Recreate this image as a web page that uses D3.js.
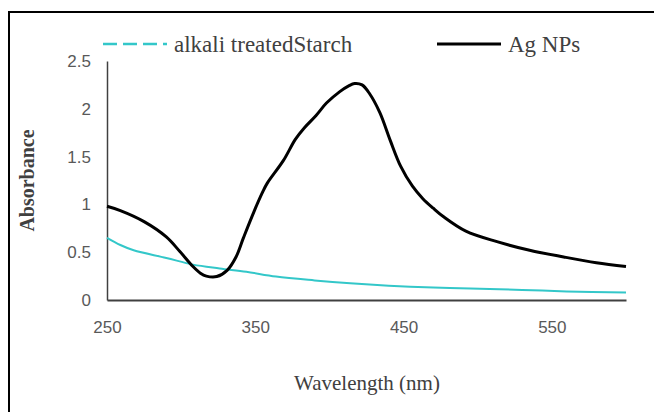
<!DOCTYPE html>
<html>
  <head>
    <meta charset="UTF-8">
    <style>
      body { margin: 0; background: white; }
      .tick text { font-family: "Liberation Sans", Arial, sans-serif; font-size: 17px; fill: #595959; }
      .serif { font-family: "Liberation Serif", "Times New Roman", serif; fill: #404040; }
    </style>
    <script src="https://d3js.org/d3.v7.min.js"></script>
  </head>
  <body>
    <svg id="chart"></svg>
    <script type="text/javascript">
      // Ag NPs spectrum
      let agWavelength = [250, 259, 275, 290, 299, 308, 313, 317, 324, 331, 337, 342, 349, 355, 358, 369, 377, 383, 391, 398, 407, 413, 417, 422, 427, 434, 441, 448, 456, 463, 470, 477, 492, 513, 535, 558, 580, 600]
      let agAbsorbance = [0.98, 0.935, 0.82, 0.66, 0.51, 0.35, 0.28, 0.25, 0.245, 0.31, 0.45, 0.65, 0.92, 1.13, 1.22, 1.46, 1.68, 1.80, 1.93, 2.06, 2.18, 2.24, 2.265, 2.25, 2.16, 1.96, 1.67, 1.40, 1.19, 1.06, 0.96, 0.87, 0.72, 0.61, 0.52, 0.45, 0.39, 0.35]

      // alkali treated starch spectrum
      let starchWavelength = [250, 259, 268, 290, 308, 326, 344, 364, 390, 414, 440, 470, 495, 530, 560, 600]
      let starchAbsorbance = [0.65, 0.575, 0.52, 0.44, 0.37, 0.33, 0.295, 0.245, 0.205, 0.175, 0.15, 0.13, 0.12, 0.105, 0.09, 0.078]

      let xTicks = [250, 350, 450, 550]
      let yTicks = [0, 0.5, 1, 1.5, 2, 2.5]
      let seriesNames = ['alkali treatedStarch', 'Ag NPs']

      let width = 654
      let height = 412
      let margin = {top: 61, bottom: 112, left: 107, right: 28}

      let svg = d3.select('#chart')
        .attr('width', width)
        .attr('height', height)

      // outer frame (only top and left edges are inside the view)
      svg.append('rect')
        .attr('x', 9).attr('y', 12)
        .attr('width', 700).attr('height', 500)
        .attr('fill', 'none')
        .attr('stroke', '#000')
        .attr('stroke-width', 2)

      let xScale = d3.scaleLinear()
        .domain([250, 600])
        .range([margin.left, width - margin.right])

      let yScale = d3.scaleLinear()
        .domain([0, 2.5])
        .range([height - margin.bottom, margin.top])

      let axisX = d3.axisBottom(xScale)
        .tickValues(xTicks)
        .tickSize(0)
        .tickPadding(21)
        .tickFormat(d3.format('d'))

      let gx = svg.append('g')
        .attr('transform', `translate(0, ${yScale(0)})`)
        .call(axisX)
      gx.select('.domain').attr('stroke', '#404040').attr('stroke-width', 2)

      let axisY = d3.axisLeft(yScale)
        .tickValues(yTicks)
        .tickSize(0)
        .tickPadding(16)
        .tickFormat(d => d)

      let gy = svg.append('g')
        .attr('transform', `translate(${xScale(250)}, 0)`)
        .call(axisY)
      gy.select('.domain').attr('stroke', '#404040').attr('stroke-width', 1.5)

      let line = d3.line()
        .x(d => xScale(d[0]))
        .y(d => yScale(d[1]))
        .curve(d3.curveCatmullRom)

      svg.append('path')
        .datum(d3.zip(starchWavelength, starchAbsorbance))
        .attr('d', line)
        .attr('fill', 'none')
        .attr('stroke', '#33c7c9')
        .attr('stroke-width', 2)

      svg.append('path')
        .datum(d3.zip(agWavelength, agAbsorbance))
        .attr('d', line)
        .attr('fill', 'none')
        .attr('stroke', '#000')
        .attr('stroke-width', 3)

      // axis titles
      svg.append('text')
        .attr('class', 'serif')
        .attr('transform', `translate(34, ${(yScale(0) + yScale(2.5)) / 2}) rotate(-90)`)
        .attr('text-anchor', 'middle')
        .style('font-size', '20px')
        .style('font-weight', 'bold')
        .text('Absorbance')

      svg.append('text')
        .attr('class', 'serif')
        .attr('x', 367)
        .attr('y', 390)
        .attr('text-anchor', 'middle')
        .style('font-size', '21px')
        .text('Wavelength (nm)')

      // legend
      let legendItems = [
        {name: seriesNames[0], color: '#33c7c9', dash: '14,6', width: 2.5, x: 103},
        {name: seriesNames[1], color: '#000', dash: null, width: 3, x: 437}
      ]

      let legend = svg.selectAll('.legend')
        .data(legendItems)
        .enter()
        .append('g')
        .attr('class', 'legend')
        .attr('transform', d => `translate(${d.x}, 44)`)

      legend.append('line')
        .attr('x1', 0).attr('x2', 64)
        .attr('stroke', d => d.color)
        .attr('stroke-width', d => d.width)
        .attr('stroke-dasharray', d => d.dash)

      legend.append('text')
        .attr('class', 'serif')
        .attr('x', 71)
        .attr('y', 8)
        .style('font-size', '23px')
        .text(d => d.name)
    </script>
  </body>
</html>
